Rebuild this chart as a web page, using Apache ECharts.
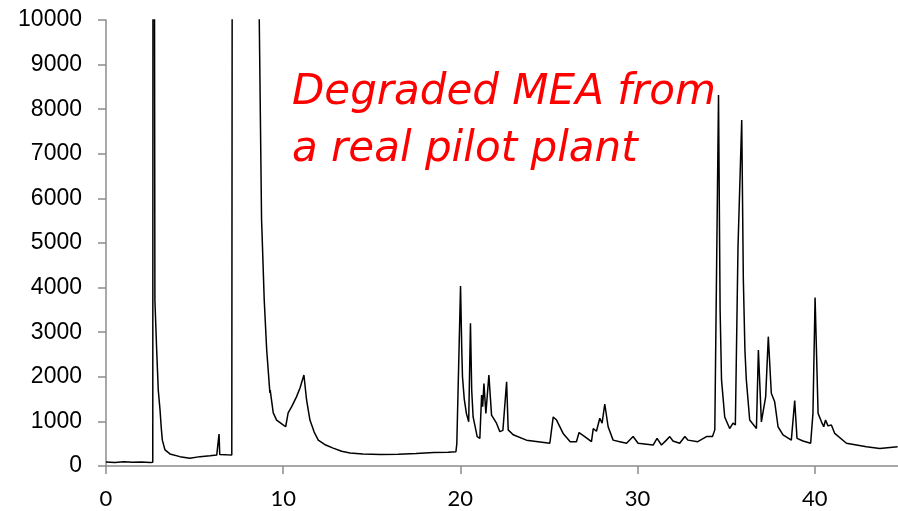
<!DOCTYPE html>
<html>
<head>
<meta charset="utf-8">
<title>Degraded MEA chromatogram</title>
<script src="https://cdn.jsdelivr.net/npm/echarts@6/dist/echarts.min.js"></script>
<style>
    html, body { margin: 0; padding: 0; background: #fff; }
    #main { width: 898px; height: 511px; }
</style>
</head>
<body>
<div id="main"></div>
<script>
// retention time (min) and detector signal
var rt = [
    0, 0.5, 1.0, 1.5, 2.0, 2.5, 2.64, 2.67, 2.74, 2.76, 2.86, 2.95, 3.05, 3.12, 3.18, 3.33, 3.61,
    4.17, 4.74, 5.3, 5.87, 6.25, 6.34, 6.38, 6.42, 6.8, 7.1, 7.16, 7.18, 8.64, 8.65,
    8.78, 8.8, 8.93, 9.07, 9.25, 9.27, 9.3, 9.44, 9.63, 9.9, 10.14, 10.28, 10.48, 10.75,
    10.95, 11.17, 11.32, 11.51, 11.75, 11.98, 12.4, 12.82, 13.3, 13.77, 14.5, 15.5, 16.5,
    17.5, 18.5, 19.3, 19.75, 19.8, 20.01, 20.08, 20.12, 20.22, 20.34, 20.47, 20.57, 20.64, 20.72, 20.95, 21.1,
    21.2, 21.26, 21.33, 21.44, 21.61, 21.76, 22.04, 22.23, 22.4, 22.61, 22.7, 22.98, 23.73,
    25.05, 25.24, 25.43, 25.8, 26.2, 26.55, 26.7, 27.02, 27.4, 27.5, 27.68, 27.87, 28.0,
    28.15, 28.34, 28.62, 29.0, 29.38, 29.75, 30.03, 30.88, 31.1, 31.35, 31.63, 31.82, 32.0,
    32.38, 32.67, 32.85, 33.4, 33.89, 34.23, 34.36, 34.57, 34.66, 34.74, 34.92, 35.2, 35.39,
    35.52, 35.67, 35.88, 35.97, 36.06, 36.14, 36.33, 36.71, 36.82, 36.99, 37.08, 37.23, 37.38,
    37.55, 37.74, 37.93, 38.21, 38.68, 38.87, 39.0, 39.34, 39.77, 39.9, 40.02, 40.19, 40.38,
    40.51, 40.61, 40.75, 40.94, 41.13, 41.79, 42.92, 43.67, 44.68
];
var signal = [
    90, 80, 95, 85, 90, 80, 85, 30000, 30000, 3722, 2600, 1700, 1255, 850, 580, 360, 270,
    210, 175, 210, 230, 245, 250, 715, 260, 250, 245, 250, 40000, 10500, 10000,
    5515, 5300, 3722, 2600, 1640, 1700, 1600, 1190, 1030, 950, 880, 1190, 1330, 1550,
    1750, 2040, 1480, 1030, 760, 580, 470, 400, 330, 290, 270, 260, 265,
    280, 300, 310, 320, 500, 4036, 2600, 2000, 1500, 1180, 990, 3200, 1700, 1100, 660, 620,
    1590, 1330, 1850, 1180, 2040, 1140, 960, 770, 800, 1890, 810, 700, 580,
    510, 1100, 1030, 730, 545, 545, 750, 660, 545, 840, 780, 1070, 960,
    1390, 880, 580, 545, 510, 660, 510, 470, 620, 470, 580, 660, 560,
    510, 660, 580, 545, 660, 660, 810, 8318, 3500, 1930, 1100, 840, 960,
    920, 4920, 7760, 4200, 2600, 1930, 1030, 840, 2600, 990, 1030, 1550, 2900,
    1630, 1440, 880, 700, 580, 1465, 620, 560, 510, 1180, 3780, 1180, 990,
    880, 1030, 900, 920, 730, 510, 430, 395, 430
];
var xTicks = [0, 10, 20, 30, 40];
var noteLines = ['Degraded MEA from', 'a real pilot plant'];

function drawChromatogram() {
    var points = [];
    for (var i = 0; i < rt.length; i++) {
        points.push([rt[i], signal[i]]);
    }

    var chart = echarts.init(document.getElementById('main'));
    var option = {
        animation: false,
        grid: {
            left: 106,
            right: 0,
            top: 20,
            bottom: 45,
            outerBoundsMode: 'none'
        },
        xAxis: {
            type: 'value',
            min: 0,
            max: 44.7,
            interval: 10,
            splitLine: { show: false },
            axisLine: { lineStyle: { color: '#8c8c8c', width: 1.5 } },
            axisTick: { length: 8, lineStyle: { color: '#8c8c8c', width: 1.5 } },
            axisLabel: {
                margin: 22,
                showMaxLabel: false,
                color: '#000',
                fontFamily: 'Lato',
                fontSize: 22,
                formatter: function (v) {
                    return xTicks.indexOf(v) >= 0 ? String(v) : '';
                }
            }
        },
        yAxis: {
            type: 'value',
            min: 0,
            max: 10000,
            interval: 1000,
            splitLine: { show: false },
            axisLine: { show: true, lineStyle: { color: '#8c8c8c', width: 1.5 } },
            axisTick: { show: true, length: 8, lineStyle: { color: '#8c8c8c', width: 1.5 } },
            axisLabel: {
                margin: 24,
                color: '#000',
                fontFamily: 'Liberation Sans',
                fontSize: 23,
                formatter: function (v) {
                    return String(v);
                }
            }
        },
        graphic: [
            {
                type: 'text',
                left: 292,
                top: 72,
                style: {
                    text: noteLines[0],
                    fill: '#ff0000',
                    font: 'italic 42px "DejaVu Sans"'
                }
            },
            {
                type: 'text',
                left: 292,
                top: 129,
                style: {
                    text: noteLines[1],
                    fill: '#ff0000',
                    font: 'italic 42px "DejaVu Sans"'
                }
            }
        ],
        series: [
            {
                type: 'line',
                data: points,
                showSymbol: false,
                clip: true,
                lineStyle: { color: '#000', width: 1.5 }
            }
        ]
    };
    chart.setOption(option);
}

drawChromatogram();
</script>
</body>
</html>
